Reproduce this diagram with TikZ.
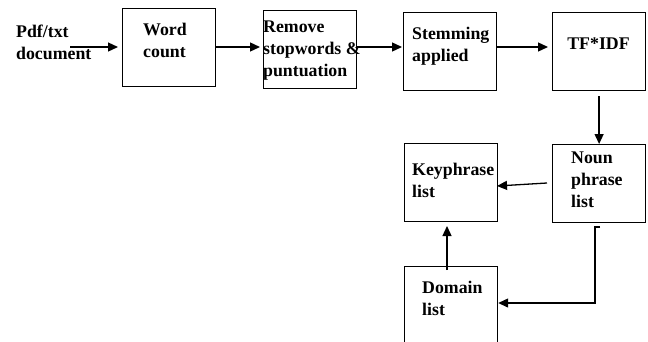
\documentclass[tikz,border=0pt]{standalone}
\usepackage{fontspec}
\setmainfont{Liberation Serif}
\usetikzlibrary{arrows.meta}
\newcommand\stk[1]{\vtop{\baselineskip=22bp\halign{##\hfil\cr#1\crcr}}}
\begin{document}
\begin{tikzpicture}[x=1bp,y=-1bp,
  box/.style={draw,line width=1.2bp,inner sep=0pt,anchor=north west,minimum width=93bp,minimum height=78bp},
  txt/.style={inner sep=0pt,anchor=base west,font=\fontsize{17.8bp}{22bp}\selectfont\bfseries},
  arr/.style={line width=1.3bp,-{Triangle[length=10bp,width=9bp]}},
  ln/.style={line width=1.3bp}]
\clip (0,0) rectangle (648,341);
% boxes
\node[box] (word) at (122,8) {};
\node[box] (remove) at (263,10) {};
\node[box] (stem) at (403,12) {};
\node[box] (tf) at (552,12) {};
\node[box] (key) at (404,143) {};
\node[box] (noun) at (552,144) {};
\node[box,minimum height=100bp] (domain) at (404,266) {};
% texts
\node[txt] (pdf) at (16,37) {\stk{Pdf/txt\cr document}};
\node[txt] at (143,35) {\stk{Word\cr count}};
\node[txt] at (263,32) {\stk{Remove\cr stopwords \&\cr puntuation}};
\node[txt] at (412,39) {\stk{Stemming\cr applied}};
\node[txt,anchor=base] at (598.5,49) {TF*IDF};
\node[txt] at (412,175) {\stk{Keyphrase\cr list}};
\node[txt] at (571,163) {\stk{Noun\cr phrase\cr list}};
\node[txt] at (422,293) {\stk{Domain\cr list}};
% connectors
\coordinate (pdfout) at (70,47);
\draw[arr,shorten >=4bp] (pdfout) -- (word.west |- pdfout);
\draw[arr,shorten >=3bp] (word.east |- pdfout) -- (remove.west |- pdfout);
\draw[arr,shorten >=1bp] (remove.east |- pdfout) -- (stem.west |- pdfout);
\draw[arr,shorten >=4bp,shorten <=-1bp] (stem.east |- pdfout) -- (tf.west |- pdfout);
\draw[arr,shorten <=5bp] (tf.south) -- (noun.north);
\coordinate (nk) at (547,183);
\coordinate (kn) at (497,186);
\draw[arr] (nk) -- (kn);
\coordinate (n1) at (600,227);
\coordinate (n2) at (595,227);
\coordinate (n3) at (595,303);
\draw[arr] (n1) -- (n2) -- (n3) -- (domain.east |- n3);
\coordinate (dk) at (447,270);
\coordinate (kd) at (447,226);
\draw[arr] (dk) -- (kd);
\end{tikzpicture}
\end{document}
